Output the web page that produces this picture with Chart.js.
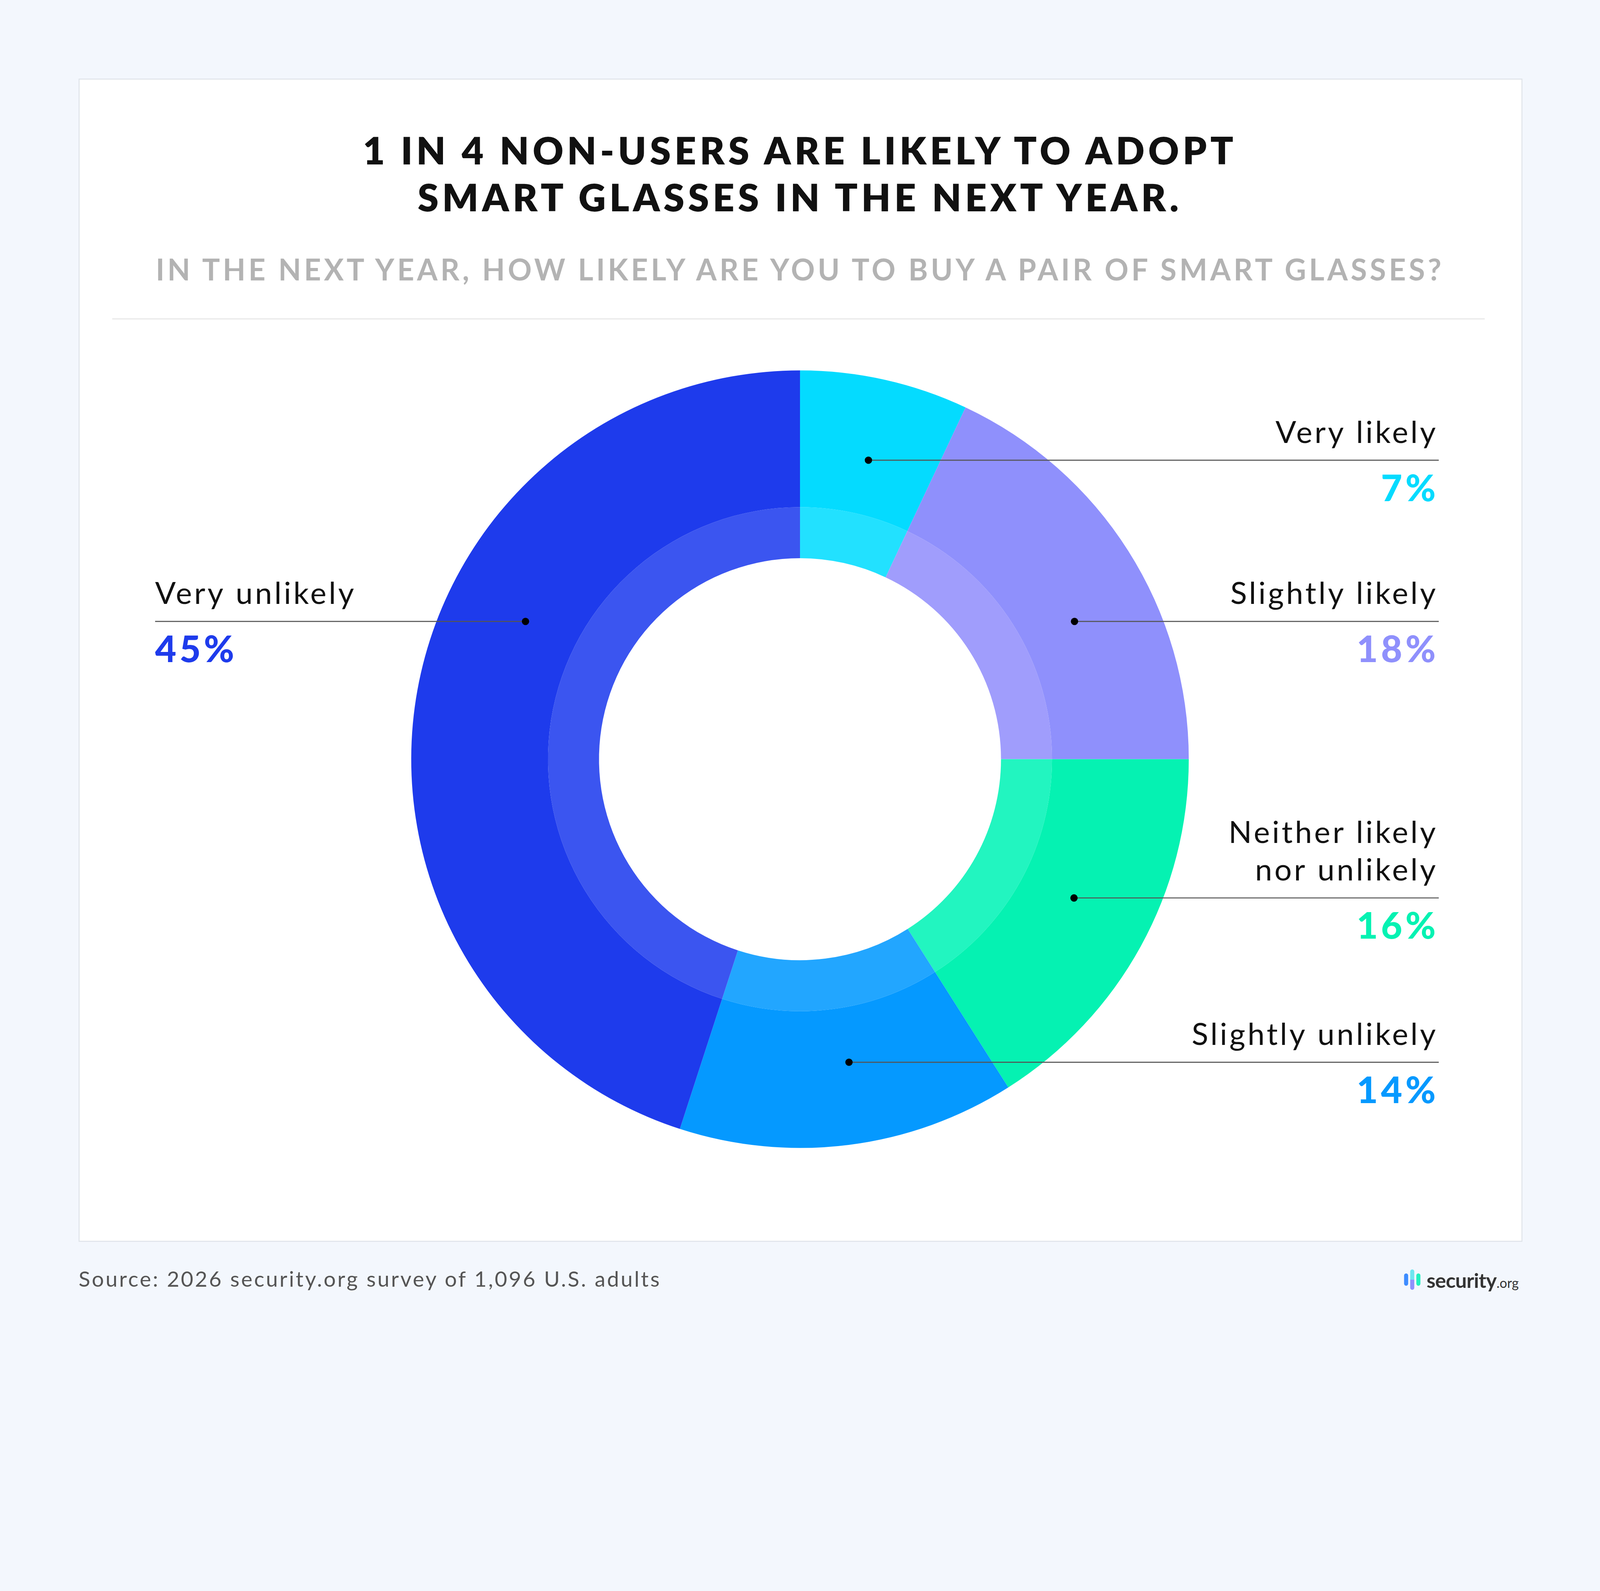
<!DOCTYPE html>
<html>
<head>
<meta charset="utf-8">
<script src="https://cdn.jsdelivr.net/npm/chart.js@4/dist/chart.umd.min.js"></script>
<style>
  html, body { margin: 0; padding: 0; background: #f3f7fd; width: 100%; height: 100%; overflow: hidden; }
  #page { position: absolute; left: 0; top: 0; width: 1568px; height: 1293px; transform-origin: 0 0; font-family: Lato, "Open Sans", sans-serif; }
  #card { position: absolute; left: 77px; top: 77px; width: 1413px; height: 1138px; background: #fff; border: 1px solid #dfe4ea; }
  h1 { position: absolute; left: 0; top: 124px; width: 1568px; margin: 0; text-align: center; font-size: 37px; line-height: 46px; font-weight: 800; letter-spacing: 3.6px; color: #111; }
  h2 { position: absolute; left: 0; top: 246px; width: 1568px; margin: 0; text-align: center; font-size: 29px; font-weight: 700; letter-spacing: 2.8px; color: #b3b3b3; }
  #rule { position: absolute; left: 110px; top: 312px; width: 1345px; height: 1px; background: #e6e6e6; }
  #source { position: absolute; left: 77px; top: 1240px; font-size: 21px; color: #555; letter-spacing: 1.6px; }
  #logo { position: absolute; left: 1376px; top: 1241px; height: 26px; display: flex; align-items: center; }
  .bar { width: 4px; border-radius: 2px; margin-right: 2px; }
  #logo b { font-size: 20px; color: #333; margin-left: 4px; letter-spacing: -0.3px; }
  #logo small { font-size: 13px; color: #333; margin-top: 6px; }
  #chart { position: absolute; left: 0; top: 0; }
</style>
</head>
<body>
<div id="page">
  <div id="card"></div>
  <h1>1 IN 4 NON-USERS ARE LIKELY TO ADOPT<br>SMART GLASSES IN THE NEXT YEAR.</h1>
  <h2>IN THE NEXT YEAR, HOW LIKELY ARE YOU TO BUY A PAIR OF SMART GLASSES?</h2>
  <div id="rule"></div>
  <div id="source">Source: 2026 security.org survey of 1,096 U.S. adults</div>
  <div id="logo">
    <div class="bar" style="height:12px;background:#3d8cff"></div>
    <div class="bar" style="height:20px;background:linear-gradient(#6ee6f0 50%,#8f90fc 50%)"></div>
    <div class="bar" style="height:12px;background:#22f0c0"></div>
    <b>security</b><small>.org</small>
  </div>
</div>
<canvas id="chart"></canvas>
<script>
const categories = ["Very likely", "Slightly likely", "Neither likely nor unlikely", "Slightly unlikely", "Very unlikely"];
const labelLines = [["Very likely"], ["Slightly likely"], ["Neither likely", "nor unlikely"], ["Slightly unlikely"], ["Very unlikely"]];
const values = [7, 18, 16, 14, 45];
const outerColors = ["#04dbff", "#8f90fc", "#05f2b2", "#0599ff", "#1e3bec"];
const innerColors = ["#22e1ff", "#a09dfc", "#22f5c0", "#22a6ff", "#3b55f0"];

const W = window.innerWidth;
const S = W / 1568;
const H = Math.max(window.innerHeight, 1293 * S);
document.getElementById("page").style.transform = `scale(${S})`;
const cv = document.getElementById("chart");
cv.style.width = W + "px";
cv.style.height = H + "px";

// label layout in page units: leader line y, side
const labelPos = [
  { y: 451, side: "right" },
  { y: 609, side: "right" },
  { y: 880, side: "right" },
  { y: 1041, side: "right" },
  { y: 609, side: "left" },
];

const labelsPlugin = {
  id: "labels",
  afterDraw(chart) {
    const c = chart.ctx;
    const arcs = chart.getDatasetMeta(0).data;
    c.save();
    arcs.forEach((arc, i) => {
      const p = labelPos[i];
      const cx = arc.x, cy = arc.y;
      const r = arc.outerRadius * 0.79;
      const ly = p.y * S;
      const dy = ly - cy;
      const dx = Math.sqrt(Math.max(0, r * r - dy * dy));
      let dotX = p.side === "right" ? cx + dx : cx - dx;
      if (i === 0) dotX = cx + arc.outerRadius * 0.176;
      if (i === 3) dotX = cx + arc.outerRadius * 0.126;
      const endX = (p.side === "right" ? 1410 : 152) * S;
      c.strokeStyle = "#555";
      c.lineWidth = 1 * S;
      c.beginPath();
      c.moveTo(dotX, ly);
      c.lineTo(endX, ly);
      c.stroke();
      c.fillStyle = "#000";
      c.beginPath();
      c.arc(dotX, ly, 3.6 * S, 0, Math.PI * 2);
      c.fill();
      const right = p.side === "right";
      c.textAlign = right ? "right" : "left";
      c.textBaseline = "alphabetic";
      c.font = `400 ${30 * S}px Lato, "Open Sans", sans-serif`;
      c.letterSpacing = (2.2 * S) + "px";
      // trailing letter spacing shifts right-aligned text; compensate
      const tx = (right ? 1407 + 2.2 : 152) * S;
      c.fillStyle = "#111";
      const lines = labelLines[i];
      lines.forEach((t, k) => {
        c.fillText(t, tx, ly - 17 * S - (lines.length - 1 - k) * 37 * S);
      });
      c.font = `900 ${36 * S}px Lato, "Open Sans", sans-serif`;
      c.letterSpacing = (3 * S) + "px";
      c.fillStyle = outerColors[i];
      c.fillText(values[i] + "%", (right ? 1407 + 3 : 152) * S, ly + 40 * S);
    });
    c.restore();
  }
};

const R = 381 * S;
const cxp = 784 * S, cyp = 744 * S;

new Chart(cv, {
  type: "doughnut",
  data: {
    labels: categories,
    datasets: [
      { data: values, backgroundColor: outerColors, borderWidth: 0, weight: 134 },
      { data: values, backgroundColor: innerColors, borderWidth: 0, weight: 50 },
    ],
  },
  options: {
    responsive: false,
    animation: false,
    cutout: "51.7%",
    layout: { padding: { left: cxp - R, right: W - cxp - R, top: cyp - R, bottom: H - cyp - R } },
    plugins: { legend: { display: false }, tooltip: { enabled: false } },
  },
  plugins: [labelsPlugin],
});
</script>
</body>
</html>
